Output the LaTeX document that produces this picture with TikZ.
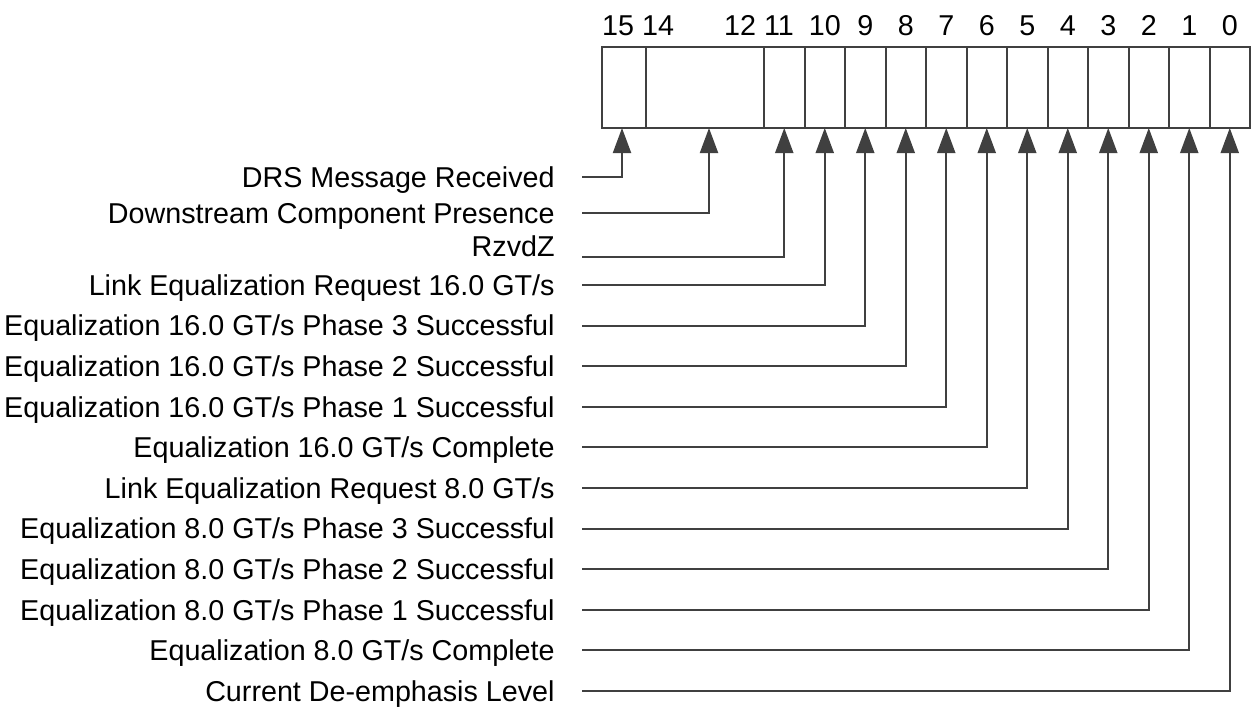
\documentclass[tikz,border=0pt]{standalone}
\usepackage{fontspec}
\setmainfont{Liberation Sans}
\usepackage{tikz}
\usetikzlibrary{arrows.meta, positioning, calc}
\definecolor{linegray}{HTML}{404040}

\begin{document}
\begin{tikzpicture}[x=0.5pt, y=-0.5pt,
  font=\fontsize{14.35}{17}\selectfont,
  cell/.style={rectangle, draw=linegray, line width=1pt, minimum height=40.5pt,
              minimum width=20.25pt, inner sep=0pt, outer sep=0pt},
  lbl/.style={anchor=east, inner xsep=13.5pt, inner ysep=0pt, text height=10.3pt, text depth=0pt},
  num/.style={anchor=base, inner sep=0pt},
  arr/.style={-{Triangle[length=12.5pt, width=9pt]}, draw=linegray, line width=1pt}
]
\useasboundingbox (0,0) rectangle (1252,707);
% register fields
\node[cell, anchor=north west, minimum width=22pt] (b15) at (602,47) {};
\node[cell, minimum width=59pt, right=0pt of b15] (b14) {};
\node[cell, right=0pt of b14] (b11) {};
\foreach \i in {10,...,0}{
  \pgfmathtruncatemacro{\j}{\i+1}
  \node[cell, right=0pt of b\j] (b\i) {};
}
% bit numbers
\node[num] (n15) at (618,35) {15};
\node[num] (n14) at (658,35) {14};
\node[num] (n12) at (740,35) {12};
\node[num] (n11) at (779,35) {11};
\foreach \i in {10,...,0}
  \node[num] (n\i) at (b\i.north |- 0,35) {\i};
% field names
\node[lbl] (l15) at (582,177) {DRS Message Received};
\node[lbl] (l14) at (582,213) {Downstream Component Presence};
\node[lbl] (l11) at (582,246) {RzvdZ};
\node[lbl] (l10) at (582,285) {Link Equalization Request 16.0 GT/s};
\node[lbl] (l9) at (582,325.6) {Equalization 16.0 GT/s Phase 3 Successful};
\node[lbl] (l8) at (582,366.2) {Equalization 16.0 GT/s Phase 2 Successful};
\node[lbl] (l7) at (582,406.8) {Equalization 16.0 GT/s Phase 1 Successful};
\node[lbl] (l6) at (582,447.4) {Equalization 16.0 GT/s Complete};
\node[lbl] (l5) at (582,488) {Link Equalization Request 8.0 GT/s};
\node[lbl] (l4) at (582,528.6) {Equalization 8.0 GT/s Phase 3 Successful};
\node[lbl] (l3) at (582,569.2) {Equalization 8.0 GT/s Phase 2 Successful};
\node[lbl] (l2) at (582,609.8) {Equalization 8.0 GT/s Phase 1 Successful};
\node[lbl] (l1) at (582,650.4) {Equalization 8.0 GT/s Complete};
\node[lbl] (l0) at (582,691) {Current De-emphasis Level};
% connectors
\draw[arr] (l15.east) -| ([xshift=-1pt]b15.south);
\draw[arr] (l14.east) -| ([xshift=2pt]b14.south);
\draw[arr] ([yshift=-5.5pt]l11.east) -| (b11.south);
\foreach \i in {10,...,0}
  \draw[arr] (l\i.east) -| (b\i.south);
\end{tikzpicture}
\end{document}
